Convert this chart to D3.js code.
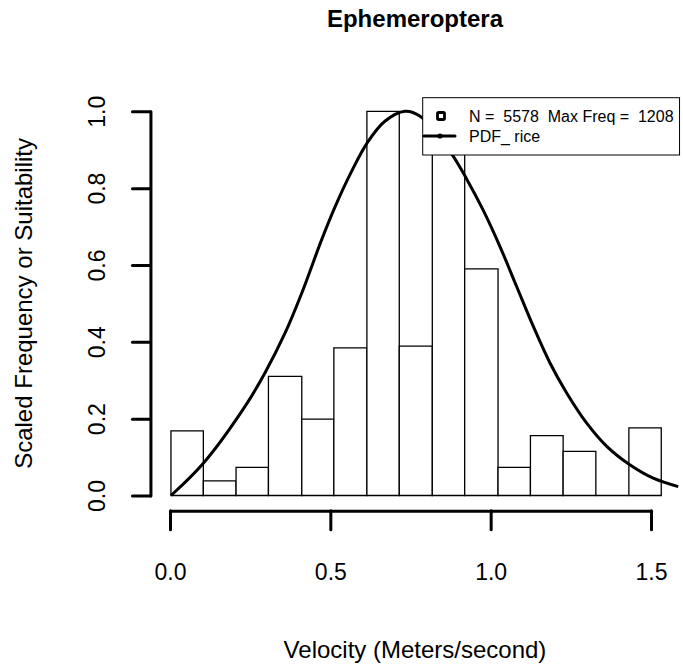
<!DOCTYPE html>
<html>
<head>
<meta charset="utf-8">
<script src="https://cdn.jsdelivr.net/npm/d3@7"></script>
<style>
  body { margin: 0; background: #fff; }
  svg { display: block; font-family: "Liberation Sans", Arial, Helvetica, sans-serif; }
</style>
</head>
<body>
<div id="chart"></div>
<script>
// histogram bins (velocity, m/s) and scaled frequency of each bin
var binEdges = [0.003, 0.104, 0.206, 0.307, 0.411, 0.511, 0.614, 0.715, 0.818, 0.919, 1.023, 1.124, 1.226, 1.328, 1.431, 1.532];
var binHeights = [0.168, 0.038, 0.073, 0.31, 0.199, 0.384, 1.0, 0.389, 0.93, 0.59, 0.073, 0.156, 0.115, 0, 0.176];

// suitability curve
var curveX = [0.003, 0.104, 0.234, 0.296, 0.359, 0.411, 0.473, 0.515, 0.567, 0.615, 0.67, 0.733, 0.78, 0.873, 0.925, 0.977, 1.029, 1.081, 1.133, 1.185, 1.237, 1.299, 1.362, 1.434, 1.507, 1.585];
var curveY = [0, 0.084, 0.232, 0.319, 0.423, 0.527, 0.666, 0.752, 0.845, 0.918, 0.974, 1.0, 0.987, 0.896, 0.824, 0.742, 0.648, 0.544, 0.44, 0.345, 0.267, 0.189, 0.128, 0.08, 0.045, 0.023];

var xTicks = [0, 0.5, 1.0, 1.5];
var yTicks = [0, 0.2, 0.4, 0.6, 0.8, 1.0];
var titleText = "Ephemeroptera";
var xLabel = "Velocity (Meters/second)";
var yLabel = "Scaled Frequency or Suitability";
var legendLabels = ["N =  5578  Max Freq =  1208", "PDF_ rice"];

(function () {
  var width = 683, height = 669;

  var x = d3.scaleLinear().domain([0, 1.5]).range([170, 651]);
  var y = d3.scaleLinear().domain([0, 1]).range([495.5, 111.3]);

  // R-style plot region: data range padded by 4%
  var pLeft = x(-0.061), pRight = x(1.589), pTop = y(1.04), pBottom = y(-0.04);

  var svg = d3.select("#chart").append("svg")
    .attr("width", width)
    .attr("height", height)
    .attr("viewBox", "0 0 " + width + " " + height);

  svg.append("rect").attr("width", width).attr("height", height).attr("fill", "#fff");

  svg.append("clipPath").attr("id", "plot-clip")
    .append("rect")
    .attr("x", pLeft).attr("y", pTop)
    .attr("width", pRight - pLeft).attr("height", pBottom - pTop);

  // bars (drawn as closed paths so an empty bin still shows its base)
  var bins = binHeights.map(function (h, i) { return { x0: binEdges[i], x1: binEdges[i + 1], h: h }; });
  svg.append("g").selectAll("path")
    .data(bins)
    .enter()
    .append("path")
    .attr("d", function (d) {
      var a = x(d.x0), b = x(d.x1), t = y(d.h), z = y(0);
      return "M" + a + "," + z + "V" + t + "H" + b + "V" + z + "Z";
    })
    .attr("fill", "#fff")
    .attr("stroke", "#000")
    .attr("stroke-width", 1.3);

  // curve
  var line = d3.line()
    .x(function (d) { return x(d[0]); })
    .y(function (d) { return y(d[1]); })
    .curve(d3.curveCatmullRom.alpha(0.5));

  svg.append("path")
    .datum(curveX.map(function (v, i) { return [v, curveY[i]]; }))
    .attr("clip-path", "url(#plot-clip)")
    .attr("d", line)
    .attr("fill", "none")
    .attr("stroke", "#000")
    .attr("stroke-width", 3)
    .attr("stroke-linejoin", "round");

  // axes
  var gy = svg.append("g")
    .attr("transform", "translate(" + pLeft + ",0)")
    .call(d3.axisLeft(y).tickValues(yTicks).tickSize(18).tickSizeOuter(0).tickFormat(d3.format(".1f")));

  var gx = svg.append("g")
    .attr("transform", "translate(0," + pBottom + ")")
    .call(d3.axisBottom(x).tickValues(xTicks).tickSize(19).tickSizeOuter(0).tickFormat(d3.format(".1f")));

  [gy, gx].forEach(function (g) {
    g.attr("font-family", null).attr("font-size", 23);
    g.select(".domain").attr("stroke-width", 3).attr("stroke-linecap", "round");
    g.selectAll(".tick line").attr("stroke-width", 3).attr("stroke-linecap", "round");
    g.selectAll("text").attr("fill", "#000");
  });

  gy.selectAll(".tick text")
    .attr("x", null).attr("dy", null)
    .attr("text-anchor", "middle")
    .attr("transform", "translate(-45,0) rotate(-90)");

  gx.selectAll(".tick text")
    .attr("y", 69).attr("dy", null);

  // titles
  svg.append("text")
    .attr("x", (pLeft + pRight) / 2).attr("y", 27)
    .attr("text-anchor", "middle")
    .attr("font-size", 24).attr("font-weight", "bold")
    .text(titleText);

  svg.append("text")
    .attr("x", (pLeft + pRight) / 2).attr("y", 658)
    .attr("text-anchor", "middle")
    .attr("font-size", 24)
    .text(xLabel);

  svg.append("text")
    .attr("transform", "translate(32," + (pTop + pBottom) / 2 + ") rotate(-90)")
    .attr("text-anchor", "middle")
    .attr("font-size", 24)
    .text(yLabel);

  // legend (top right, inside plot region)
  var legend = svg.append("g");
  legend.append("rect")
    .attr("x", 422.7).attr("y", 97.7)
    .attr("width", pRight - 422.7).attr("height", 57.3)
    .attr("fill", "#fff").attr("stroke", "#000").attr("stroke-width", 1);

  legend.append("rect")
    .attr("x", 437.5).attr("y", 112.5).attr("width", 7).attr("height", 7)
    .attr("rx", 1.2)
    .attr("fill", "#fff").attr("stroke", "#000").attr("stroke-width", 2.8);

  legend.append("line")
    .attr("x1", 424).attr("x2", 455).attr("y1", 136).attr("y2", 136)
    .attr("stroke", "#000").attr("stroke-width", 3).attr("stroke-linecap", "round");
  legend.append("circle").attr("cx", 440).attr("cy", 136).attr("r", 2.6).attr("fill", "#000");

  legend.selectAll("text.leg")
    .data(legendLabels)
    .enter()
    .append("text")
    .attr("class", "leg")
    .attr("x", 469)
    .attr("y", function (d, i) { return 122 + i * 19.7; })
    .attr("font-size", 16)
    .style("white-space", "pre")
    .text(function (d) { return d; });
})();
</script>
</body>
</html>
